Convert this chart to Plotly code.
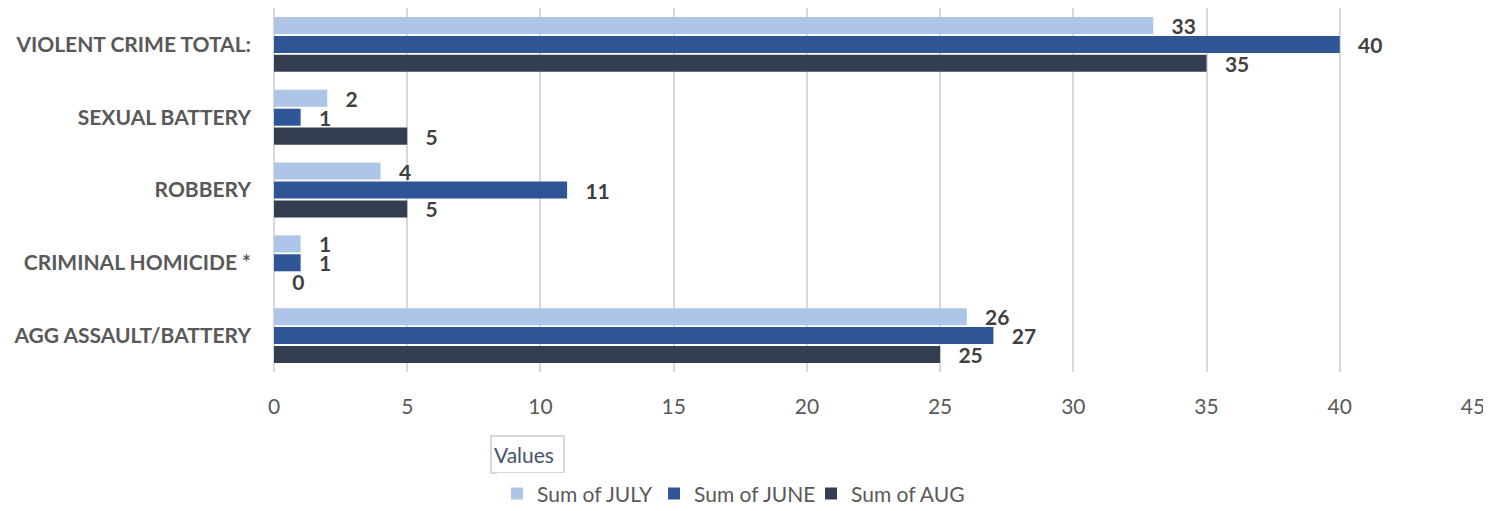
import plotly.graph_objects as go

categories = ["AGG ASSAULT/BATTERY", "CRIMINAL HOMICIDE *", "ROBBERY", "SEXUAL BATTERY", "VIOLENT CRIME TOTAL:"]
july = [26, 1, 4, 2, 33]
june = [27, 1, 11, 1, 40]
aug = [25, 0, 5, 5, 35]
x_ticks = [0, 5, 10, 15, 20, 25, 30, 35, 40, 45]

series = [
    ("Sum of AUG", aug, "#333f50"),
    ("Sum of JUNE", june, "#2f5597"),
    ("Sum of JULY", july, "#adc6e8"),
]

FONT = "Lato"

fig = go.Figure()
for name, vals, color in series:
    fig.add_trace(go.Bar(
        y=categories, x=vals, name=name, orientation="h",
        marker=dict(color=color, line=dict(width=0)),
        text=vals, texttemplate="   %{x}", textposition="outside", cliponaxis=False,
        textfont=dict(family=FONT, size=21, color="#404040", weight="bold"),
    ))

fig.update_layout(
    width=1483, height=503,
    margin=dict(l=266, r=18, t=0, b=139, autoexpand=False),
    plot_bgcolor="white", paper_bgcolor="white",
    barmode="group", bargap=0.22, bargroupgap=0.1,
    uniformtext=dict(minsize=21, mode="show"),
    showlegend=True,
    legend=dict(orientation="h", traceorder="reversed", x=0.186, xanchor="left",
                y=-0.335, yanchor="middle", entrywidth=112, entrywidthmode="pixels",
                font=dict(family=FONT, size=21, color="#595959")),
    font=dict(family=FONT),
    shapes=[dict(type="rect", xref="paper", yref="paper", x0=0.181, x1=0.2419,
                 y0=-0.2775, y1=-0.1758, line=dict(color="#d9d9d9", width=2),
                 fillcolor="rgba(0,0,0,0)")],
    annotations=[dict(text="Values", xref="paper", yref="paper", x=0.1818, y=-0.228,
                      xanchor="left", yanchor="middle", showarrow=False,
                      font=dict(family=FONT, size=21, color="#44546a"))],
)
fig.update_xaxes(range=[0, 45], tickvals=x_ticks, showgrid=True, gridcolor="#d9d9d9",
                 gridwidth=2, zeroline=True, zerolinecolor="#d9d9d9", zerolinewidth=2,
                 tickfont=dict(family=FONT, size=21, color="#595959"),
                 ticks="", ticklabelstandoff=20, showline=False, automargin=False)
fig.update_yaxes(tickfont=dict(family=FONT, size=21, color="#595959", weight="bold"),
                 ticks="", ticklabelstandoff=22, showline=False, automargin=False)

fig.write_html("out.html")
